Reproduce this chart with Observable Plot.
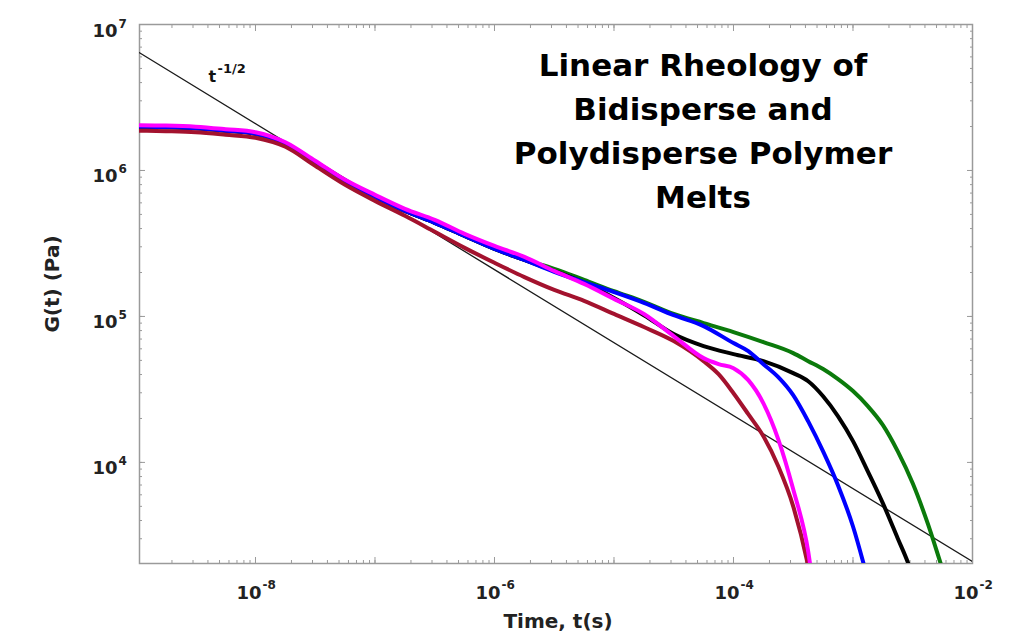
<!DOCTYPE html>
<html>
<head>
<meta charset="utf-8">
<script src="https://cdn.jsdelivr.net/npm/d3@7"></script>
<script src="https://cdn.jsdelivr.net/npm/@observablehq/plot@0.6"></script>
<style>
  html, body { margin: 0; padding: 0; background: #ffffff; }
  #chart { width: 1020px; height: 634px; }
</style>
</head>
<body>
<div id="chart"></div>
<script>
// ---------- data ----------
const titleText = "Linear Rheology of\nBidisperse and\nPolydisperse Polymer\nMelts";
const xLabel = "Time, t(s)";
const yLabel = "G(t) (Pa)";
const slopeLabel = "t";
const slopeExponent = "-1/2";

const xTicks = [1e-8, 1e-6, 1e-4, 1e-2];
const xTickExponents = ["-8", "-6", "-4", "-2"];
const yTicks = [1e4, 1e5, 1e6, 1e7];
const yTickExponents = ["4", "5", "6", "7"];

// reference t^-1/2 line
const slopeT = [1.07e-9, 1e-2];
const slopeG = [6.4e6, 2.09e3];

const tGreen = [1.07e-9,1.78e-9,3.16e-9,5.62e-9,1e-8,1.78e-8,3.16e-8,5.62e-8,1e-7,1.78e-7,3.16e-7,5.62e-7,1e-6,1.78e-6,3.16e-6,5.62e-6,1e-5,1.78e-5,3.16e-5,5.62e-5,1e-4,1.78e-4,3.16e-4,4.22e-4,5.62e-4,7.5e-4,1e-3,1.33e-3,1.78e-3,2.37e-3,3.16e-3,4.22e-3,5.62e-3,6.3e-3];
const gGreen = [1.995e6,1.979e6,1.948e6,1.873e6,1.786e6,1.525e6,1.129e6,8.36e5,6.60e5,5.29e5,4.38e5,3.56e5,2.90e5,2.44e5,2.12e5,1.78e5,1.49e5,1.26e5,1.04e5,9.01e4,7.82e4,6.67e4,5.61e4,4.94e4,4.36e4,3.72e4,3.08e4,2.43e4,1.80e4,1.19e4,7.19e3,3.82e3,1.85e3,1.4e3];

const tBlack = [1.07e-9,1.78e-9,3.16e-9,5.62e-9,1e-8,1.78e-8,3.16e-8,5.62e-8,1e-7,1.78e-7,3.16e-7,5.62e-7,1e-6,1.78e-6,3.16e-6,5.62e-6,1e-5,1.78e-5,3.16e-5,5.62e-5,1e-4,1.78e-4,3.16e-4,4.22e-4,5.62e-4,7.5e-4,1e-3,1.33e-3,1.78e-3,2.37e-3,2.9e-3,3.16e-3];
const gBlack = [1.995e6,1.979e6,1.948e6,1.873e6,1.786e6,1.525e6,1.129e6,8.36e5,6.60e5,5.29e5,4.38e5,3.56e5,2.90e5,2.44e5,2.05e5,1.70e5,1.34e5,1.02e5,7.57e4,6.26e4,5.52e4,4.94e4,4.09e4,3.60e4,2.84e4,2.07e4,1.40e4,8.69e3,5.24e3,3.01e3,2.03e3,1.65e3];

const tBlue = [1.07e-9,1.78e-9,3.16e-9,5.62e-9,1e-8,1.78e-8,3.16e-8,5.62e-8,1e-7,1.78e-7,3.16e-7,5.62e-7,1e-6,1.78e-6,3.16e-6,5.62e-6,1e-5,1.78e-5,3.16e-5,5.62e-5,1e-4,1.33e-4,1.78e-4,2.37e-4,3.16e-4,4.22e-4,5.62e-4,7.5e-4,1e-3,1.33e-3];
const gBlue = [1.995e6,1.979e6,1.948e6,1.873e6,1.786e6,1.525e6,1.129e6,8.36e5,6.60e5,5.29e5,4.38e5,3.56e5,2.90e5,2.44e5,2.02e5,1.72e5,1.47e5,1.24e5,1.02e5,8.59e4,6.57e4,5.79e4,4.71e4,3.84e4,2.89e4,1.91e4,1.19e4,6.96e3,3.64e3,1.58e3];

const tMagenta = [1.07e-9,1.78e-9,3.16e-9,5.62e-9,1e-8,1.78e-8,3.16e-8,5.62e-8,1e-7,1.78e-7,3.16e-7,5.62e-7,1e-6,1.78e-6,3.16e-6,5.62e-6,1e-5,1.78e-5,3.16e-5,5.62e-5,7.5e-5,1e-4,1.33e-4,1.78e-4,2.37e-4,3.16e-4,4.22e-4,4.47e-4];
const gMagenta = [2.04e6,2.03e6,1.995e6,1.918e6,1.829e6,1.562e6,1.166e6,8.63e5,6.81e5,5.46e5,4.59e5,3.68e5,3.04e5,2.56e5,2.05e5,1.67e5,1.32e5,1.04e5,7.34e4,5.18e4,4.71e4,4.42e4,3.66e4,2.54e4,1.44e4,6.54e3,2.45e3,1.79e3];

const tRed = [1.07e-9,1.78e-9,3.16e-9,5.62e-9,1e-8,1.78e-8,3.16e-8,5.62e-8,1e-7,1.78e-7,3.16e-7,5.62e-7,1e-6,1.78e-6,3.16e-6,5.62e-6,1e-5,1.78e-5,3.16e-5,5.62e-5,7.5e-5,1e-4,1.33e-4,1.78e-4,2.37e-4,3.16e-4,4.22e-4,4.47e-4];
const gRed = [1.873e6,1.858e6,1.829e6,1.758e6,1.676e6,1.454e6,1.077e6,7.98e5,6.19e5,4.89e5,3.80e5,2.95e5,2.33e5,1.86e5,1.52e5,1.28e5,1.04e5,8.46e4,6.78e4,4.94e4,4.02e4,2.98e4,2.14e4,1.51e4,9.4e3,5.00e3,1.94e3,1.53e3];

const seriesNames = ["sample A", "sample B", "sample C", "sample D", "sample E"];
const seriesColors = ["#0b7a0b", "#000000", "#0000ff", "#a3122e", "#ff00ff"];
const seriesT = [tGreen, tBlack, tBlue, tRed, tMagenta];
const seriesG = [gGreen, gBlack, gBlue, gRed, gMagenta];

// ---------- build tables ----------
const curves = seriesNames.flatMap((name, i) =>
  seriesT[i].map((t, j) => ({series: name, t, G: seriesG[i][j]})));
const slopeLine = slopeT.map((t, j) => ({t, G: slopeG[j]}));

const xDomain = [1.07e-9, 1e-2];
const yDomain = [2030, 1e7];

function minorTicks(lo, hi, d0, d1) {
  const out = [];
  for (let d = d0; d <= d1; d++) for (let m = 1; m <= 9; m++) {
    const v = m * Math.pow(10, d);
    if (v >= lo * 0.999 && v <= hi * 1.001) out.push(v);
  }
  return out;
}
const isDecade = v => Math.abs(Math.log10(v) - Math.round(Math.log10(v))) < 1e-9;
const xAllTicks = minorTicks(xDomain[0], xDomain[1], -9, -2);
const xMajor = xAllTicks.filter(isDecade);
const yAllTicks = minorTicks(yDomain[0], yDomain[1], 3, 7);
const yMajor = yAllTicks.filter(isDecade);

const axisColor = "#9a9a9a";
const labelColor = "#222222";
const font = "DejaVu Sans";

const tickAxes = [];
for (const anchor of ["bottom", "top"]) {
  tickAxes.push(Plot.axisX({anchor, ticks: xAllTicks, tickSize: -3, tickFormat: () => "", label: null, stroke: axisColor}));
  tickAxes.push(Plot.axisX({anchor, ticks: xMajor, tickSize: -6, tickFormat: () => "", label: null, stroke: axisColor}));
}
for (const anchor of ["left", "right"]) {
  tickAxes.push(Plot.axisY({anchor, ticks: yAllTicks, tickSize: -3, tickFormat: () => "", label: null, stroke: axisColor}));
  tickAxes.push(Plot.axisY({anchor, ticks: yMajor, tickSize: -6, tickFormat: () => "", label: null, stroke: axisColor}));
}

const chart = Plot.plot({
  width: 1020,
  height: 634,
  marginLeft: 139,
  marginRight: 48,
  marginTop: 24,
  marginBottom: 71,
  style: {fontFamily: font, background: "#ffffff", overflow: "visible"},
  x: {type: "log", domain: xDomain, label: null},
  y: {type: "log", domain: yDomain, label: null},
  color: {domain: seriesNames, range: seriesColors},
  marks: [
    ...tickAxes,
    Plot.frame({stroke: axisColor, strokeWidth: 1.5}),
    // t^-1/2 reference line
    Plot.line(slopeLine, {x: "t", y: "G", stroke: "#1a1a1a", strokeWidth: 1.3, clip: true}),
    // relaxation modulus curves
    Plot.line(curves, {x: "t", y: "G", z: "series", stroke: "series", strokeWidth: 4,
      curve: "monotone-x", clip: true, strokeLinejoin: "round"}),
    // slope label
    Plot.text([slopeLabel], {frameAnchor: "top-left", text: d => d, dx: 69, dy: 57,
      textAnchor: "start", lineAnchor: "bottom", fontSize: 16, fontWeight: "bold", fill: "#111"}),
    Plot.text([slopeExponent], {frameAnchor: "top-left", text: d => d, dx: 78, dy: 48,
      textAnchor: "start", lineAnchor: "bottom", fontSize: 13, fontWeight: "bold", fill: "#111"}),
    // x tick labels
    Plot.text(xTicks, {x: d => d, frameAnchor: "bottom", text: () => "10", dx: 6, dy: 35,
      textAnchor: "end", lineAnchor: "bottom", fontSize: 18, fontWeight: "bold", fill: labelColor}),
    Plot.text(xTicks, {x: d => d, frameAnchor: "bottom", text: (d, i) => xTickExponents[i], dx: 7, dy: 25,
      textAnchor: "start", lineAnchor: "bottom", fontSize: 12, fontWeight: "bold", fill: labelColor}),
    // y tick labels
    Plot.text(yTicks, {y: d => d, frameAnchor: "left", text: () => "10", dx: -22, dy: 12,
      textAnchor: "end", lineAnchor: "bottom", fontSize: 18, fontWeight: "bold", fill: labelColor}),
    Plot.text(yTicks, {y: d => d, frameAnchor: "left", text: (d, i) => yTickExponents[i], dx: -21, dy: 3,
      textAnchor: "start", lineAnchor: "bottom", fontSize: 12, fontWeight: "bold", fill: labelColor}),
    // axis labels
    Plot.text([xLabel], {frameAnchor: "bottom", text: d => d, dx: 2, dy: 64,
      textAnchor: "middle", lineAnchor: "bottom", fontSize: 20, fontWeight: "bold", fill: labelColor}),
    Plot.text([yLabel], {frameAnchor: "left", text: d => d, dx: -81, dy: -10, rotate: -90,
      textAnchor: "middle", lineAnchor: "bottom", fontSize: 20, fontWeight: "bold", fill: labelColor}),
    // title
    Plot.text([titleText], {frameAnchor: "top", text: d => d, dx: 147, dy: 20,
      textAnchor: "middle", lineAnchor: "top", lineHeight: 1.42, fontSize: 31, fontWeight: "bold", fill: "#000"})
  ]
});
document.getElementById("chart").appendChild(chart);
</script>
</body>
</html>
